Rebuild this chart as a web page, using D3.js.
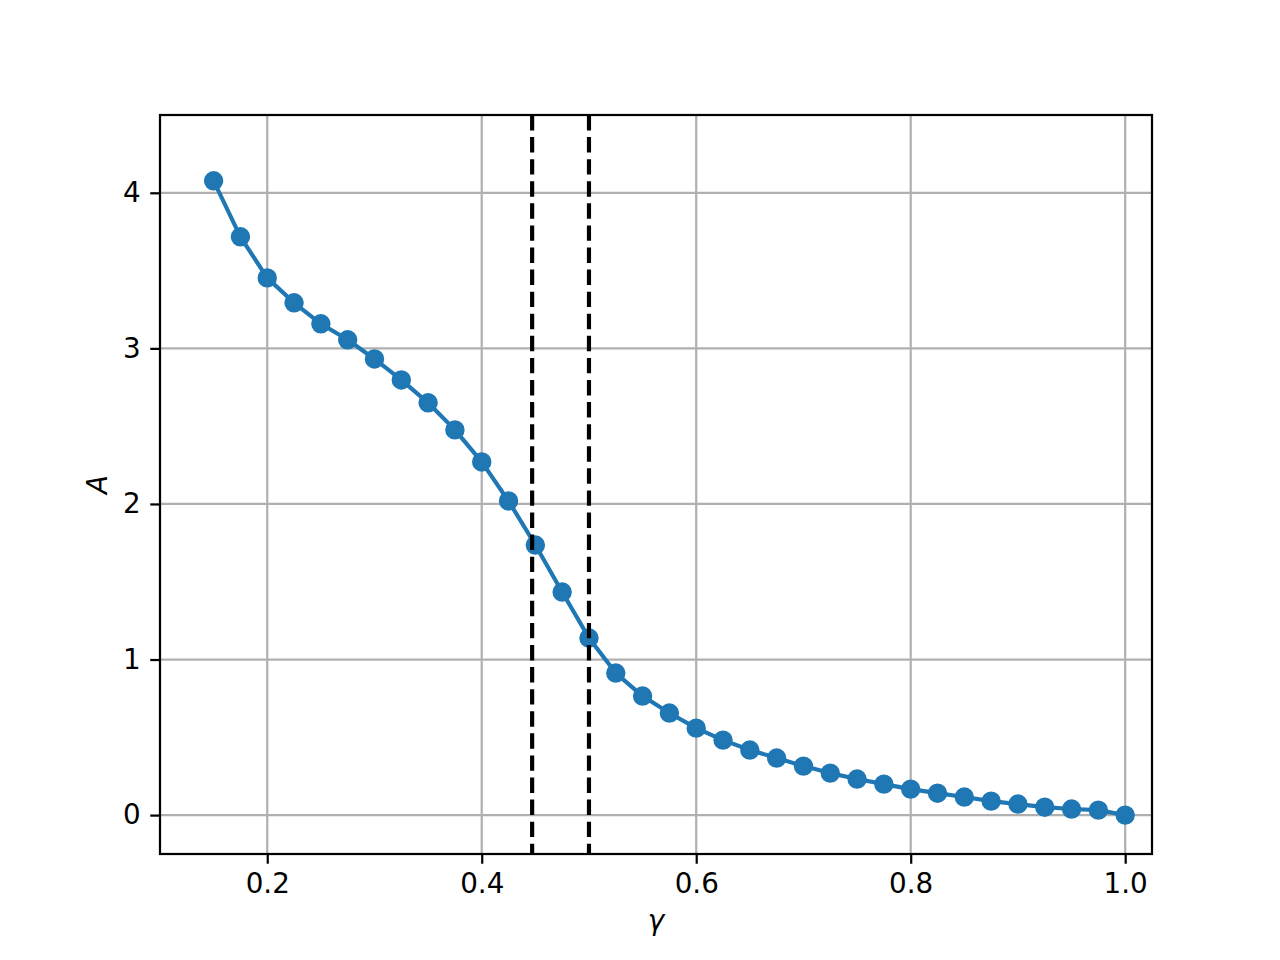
<!DOCTYPE html>
<html>
<head>
<meta charset="utf-8">
<script src="https://cdn.jsdelivr.net/npm/d3@7"></script>
<style>
  body { margin: 0; background: white; }
  text { font-family: "DejaVu Sans", sans-serif; }
</style>
</head>
<body>
<svg id="vis"></svg>
<script>
// data
const gammaValues = [0.15, 0.175, 0.2, 0.225, 0.25, 0.275, 0.3, 0.325, 0.35, 0.375,
    0.4, 0.425, 0.45, 0.475, 0.5, 0.525, 0.55, 0.575, 0.6, 0.625,
    0.65, 0.675, 0.7, 0.725, 0.75, 0.775, 0.8, 0.825, 0.85, 0.875,
    0.9, 0.925, 0.95, 0.975, 1.0]
const aValues = [4.077, 3.717, 3.453, 3.293, 3.158, 3.055, 2.932, 2.797, 2.650, 2.476,
    2.270, 2.019, 1.736, 1.434, 1.138, 0.913, 0.765, 0.656, 0.559, 0.482,
    0.418, 0.367, 0.315, 0.270, 0.232, 0.199, 0.167, 0.141, 0.116, 0.090,
    0.071, 0.051, 0.039, 0.032, 0.0]
const dashedLines = [0.447, 0.5]
const xTicks = [0.2, 0.4, 0.6, 0.8, 1.0]
const yTicks = [0, 1, 2, 3, 4]

// layout constants (matplotlib default at 200 dpi)
const WIDTH = 1280
const HEIGHT = 960
const LEFT = 160
const RIGHT = 1152
const TOP = 115
const BOTTOM = 854
const PT = 200 / 72
const FONT = 10 * PT
const BLUE = '#1f77b4'

var svg = d3.select('#vis')
    .attr('width', WIDTH)
    .attr('height', HEIGHT)

var x = d3.scaleLinear().domain([0.1, 1.025]).range([LEFT, RIGHT])
var y = d3.scaleLinear().domain([-0.25, 4.5]).range([BOTTOM, TOP])

// grid lines
svg.append('g')
    .selectAll('line')
    .data(xTicks)
    .join('line')
    .attr('x1', d => x(d)).attr('x2', d => x(d))
    .attr('y1', TOP).attr('y2', BOTTOM)
    .attr('stroke', '#b0b0b0')
    .attr('stroke-width', 0.8 * PT)

svg.append('g')
    .selectAll('line')
    .data(yTicks)
    .join('line')
    .attr('x1', LEFT).attr('x2', RIGHT)
    .attr('y1', d => y(d)).attr('y2', d => y(d))
    .attr('stroke', '#b0b0b0')
    .attr('stroke-width', 0.8 * PT)

// clip to the axes box
svg.append('clipPath').attr('id', 'clip')
    .append('rect')
    .attr('x', LEFT).attr('y', TOP)
    .attr('width', RIGHT - LEFT).attr('height', BOTTOM - TOP)

var plot = svg.append('g').attr('clip-path', 'url(#clip)')

// series line and markers
var line = d3.line()
    .x((d, i) => x(gammaValues[i]))
    .y(d => y(d))

plot.append('path')
    .datum(aValues)
    .attr('d', line)
    .attr('fill', 'none')
    .attr('stroke', BLUE)
    .attr('stroke-width', 1.5 * PT)
    .attr('stroke-linejoin', 'round')
    .attr('stroke-linecap', 'square')

plot.append('g')
    .selectAll('circle')
    .data(aValues)
    .join('circle')
    .attr('cx', (d, i) => x(gammaValues[i]))
    .attr('cy', d => y(d))
    .attr('r', 3 * PT)
    .attr('fill', BLUE)
    .attr('stroke', BLUE)
    .attr('stroke-width', 1 * PT)

// dashed vertical lines
plot.append('g')
    .selectAll('line')
    .data(dashedLines)
    .join('line')
    .attr('x1', d => x(d)).attr('x2', d => x(d))
    .attr('y1', TOP).attr('y2', BOTTOM)
    .attr('stroke', 'black')
    .attr('stroke-width', 1.5 * PT)
    .attr('stroke-dasharray', `${3.7 * 1.5 * PT},${1.6 * 1.5 * PT}`)

// axes
var xAxis = svg.append('g')
    .attr('transform', `translate(0,${BOTTOM})`)
    .call(d3.axisBottom(x).tickValues(xTicks).tickFormat(d3.format('.1f'))
        .tickSize(3.5 * PT).tickPadding(3.5 * PT))
var yAxis = svg.append('g')
    .attr('transform', `translate(${LEFT},0)`)
    .call(d3.axisLeft(y).tickValues(yTicks).tickFormat(d3.format('d'))
        .tickSize(3.5 * PT).tickPadding(3.5 * PT))

for (const ax of [xAxis, yAxis]) {
    ax.select('.domain').remove()
    ax.selectAll('.tick line').attr('stroke', 'black').attr('stroke-width', 0.8 * PT)
    ax.selectAll('.tick text')
        .attr('fill', 'black')
        .style('font-size', FONT + 'px')
        .style('font-family', '"DejaVu Sans", sans-serif')
}

// frame
svg.append('rect')
    .attr('x', LEFT).attr('y', TOP)
    .attr('width', RIGHT - LEFT).attr('height', BOTTOM - TOP)
    .attr('fill', 'none')
    .attr('stroke', 'black')
    .attr('stroke-width', 0.8 * PT)

// axis labels
svg.append('text')
    .attr('x', (LEFT + RIGHT) / 2)
    .attr('y', 930)
    .attr('text-anchor', 'middle')
    .style('font-size', FONT + 'px')
    .style('font-style', 'italic')
    .text('γ')

svg.append('text')
    .attr('transform', `translate(107,${(TOP + BOTTOM) / 2}) rotate(-90)`)
    .attr('text-anchor', 'middle')
    .style('font-size', FONT + 'px')
    .style('font-style', 'italic')
    .text('A')
</script>
</body>
</html>
